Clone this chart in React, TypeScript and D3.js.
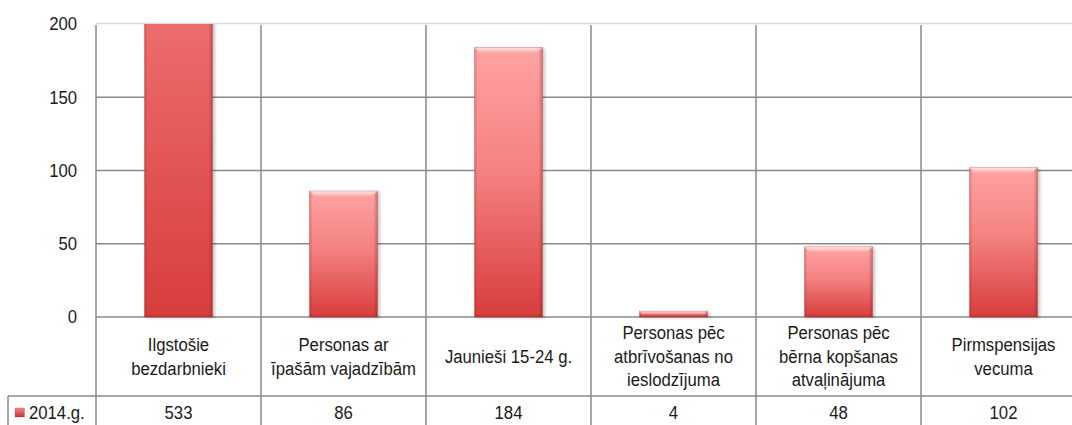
import React from "react";
import * as d3 from "d3";

const categories: string[][] = [
  ["Ilgstošie", "bezdarbnieki"],
  ["Personas ar", "īpašām vajadzībām"],
  ["Jaunieši 15-24 g."],
  ["Personas pēc", "atbrīvošanas no", "ieslodzījuma"],
  ["Personas pēc", "bērna kopšanas", "atvaļinājuma"],
  ["Pirmspensijas", "vecuma"],
];
const values: number[] = [533, 86, 184, 4, 48, 102];
const yTicks: number[] = [0, 50, 100, 150, 200];
const seriesName = "2014.g.";

const W = 1072;
const H = 425;
const left = 96;
const step = 165;
const plotTop = 24;
const zeroY = 317;
const rowSplit = 396;
const FONT = "'Liberation Sans', Arial, sans-serif";
const SX = 0.88;
const FS = 19;

function T({ x, y, anchor, children }: { x: number; y: number; anchor: string; children: React.ReactNode }) {
  return (
    <text
      transform={`translate(${x},${y}) scale(${SX},1)`}
      textAnchor={anchor}
      dominantBaseline="central"
      fontFamily={FONT}
      fontSize={FS}
      fill="#1a1a1a"
    >
      {children}
    </text>
  );
}

export default function App() {
  const ids = categories.map((_, i) => String(i));
  const x = d3
    .scaleBand<string>()
    .domain(ids)
    .range([left, left + step * ids.length])
    .paddingInner(1 - 68 / 165)
    .paddingOuter((1 - 68 / 165) / 2);
  const y = d3.scaleLinear().domain([0, 200]).range([zeroY, plotTop]);
  const bw = x.bandwidth();

  return (
    <div style={{ position: "absolute", left: 0, top: 0, width: W, height: H, overflow: "hidden", background: "#fff" }}>
      <svg width={W} height={H} style={{ display: "block" }}>
        <defs>
          <linearGradient id="barG" x1="0" y1="0" x2="0" y2="1">
            <stop offset="0" stopColor="#ffa3a3" />
            <stop offset="0.45" stopColor="#f58282" />
            <stop offset="1" stopColor="#d83d3d" />
          </linearGradient>
          <linearGradient id="capG" x1="0" y1="0" x2="0" y2="1">
            <stop offset="0" stopColor="#ffffff" stopOpacity="0.75" />
            <stop offset="1" stopColor="#ffffff" stopOpacity="0" />
          </linearGradient>
          <linearGradient id="rightG" x1="0" y1="0" x2="1" y2="0">
            <stop offset="0" stopColor="#801010" stopOpacity="0" />
            <stop offset="1" stopColor="#801010" stopOpacity="0.35" />
          </linearGradient>
          <linearGradient id="leftG" x1="0" y1="0" x2="1" y2="0">
            <stop offset="0" stopColor="#801010" stopOpacity="0.25" />
            <stop offset="1" stopColor="#801010" stopOpacity="0" />
          </linearGradient>
          <linearGradient id="swG" x1="0" y1="0" x2="0" y2="1">
            <stop offset="0" stopColor="#f08a8a" />
            <stop offset="1" stopColor="#c03434" />
          </linearGradient>
          <filter id="shadow" x="-20%" y="-20%" width="140%" height="140%">
            <feGaussianBlur stdDeviation="1.5" />
          </filter>
          <clipPath id="plotClip">
            <rect x={left} y={plotTop} width={W - left} height={H} />
          </clipPath>
        </defs>

        {/* top gridline (200) */}
        <line x1={left} x2={W} y1={y(200) - 0.5} y2={y(200) - 0.5} stroke="#dcdcdc" strokeWidth={1.5} />

        {/* horizontal gridlines */}
        {yTicks
          .filter((t) => t !== 200)
          .map((t) => (
            <line key={t} x1={left} x2={W} y1={y(t)} y2={y(t)} stroke="#8a8a8a" strokeWidth={1.5} />
          ))}

        {/* vertical lines */}
        {d3.range(ids.length + 1).map((i) => (
          <line
            key={i}
            x1={left + i * step}
            x2={left + i * step}
            y1={plotTop + 1}
            y2={H}
            stroke="#8a8a8a"
            strokeWidth={1.5}
          />
        ))}
        <line x1={8} x2={W} y1={rowSplit} y2={rowSplit} stroke="#8a8a8a" strokeWidth={1.5} />
        <line x1={8} x2={8} y1={rowSplit} y2={H} stroke="#8a8a8a" strokeWidth={1.5} />

        {/* bars */}
        <g clipPath="url(#plotClip)">
          {values.map((v, i) => {
            const bx = x(ids[i]) as number;
            const by = y(v);
            const bh = zeroY - by;
            const cap = Math.min(6, bh / 2);
            return (
              <g key={i}>
                <rect x={bx + 1.5} y={by + 1} width={bw + 1} height={bh} fill="#000" opacity={0.22} filter="url(#shadow)" />
                <rect x={bx} y={by} width={bw} height={bh} fill="url(#barG)" />
                <rect x={bx} y={by} width={3} height={bh} fill="url(#leftG)" />
                <rect x={bx + bw - 4} y={by} width={4} height={bh} fill="url(#rightG)" />
                <rect x={bx} y={zeroY - 2} width={bw} height={2} fill="#a02020" opacity={0.3} />
                <polygon
                  points={`${bx},${by} ${bx + bw},${by} ${bx + bw - cap},${by + cap} ${bx + cap},${by + cap}`}
                  fill="url(#capG)"
                />
                <rect x={bx} y={by} width={bw} height={bh} fill="none" stroke="#b04040" strokeOpacity={0.35} strokeWidth={0.8} />
              </g>
            );
          })}
        </g>

        {/* y tick labels */}
        {yTicks.map((t) => (
          <T key={t} x={77} y={y(t)} anchor="end">
            {t}
          </T>
        ))}

        {/* category labels */}
        {categories.map((lines, i) => {
          const cx = left + i * step + step / 2;
          const cy = (zeroY + rowSplit) / 2;
          const lh = 23.5;
          return lines.map((ln, j) => (
            <T key={`${i}-${j}`} x={cx} y={cy + (j - (lines.length - 1) / 2) * lh} anchor="middle">
              {ln}
            </T>
          ));
        })}

        {/* legend + values row */}
        <rect x={15} y={408} width={9.5} height={9} fill="url(#swG)" stroke="#b03030" strokeOpacity={0.4} strokeWidth={0.6} />
        <T x={29} y={413} anchor="start">
          {seriesName}
        </T>
        {values.map((v, i) => (
          <T key={i} x={left + i * step + step / 2} y={413} anchor="middle">
            {v}
          </T>
        ))}
      </svg>
    </div>
  );
}
